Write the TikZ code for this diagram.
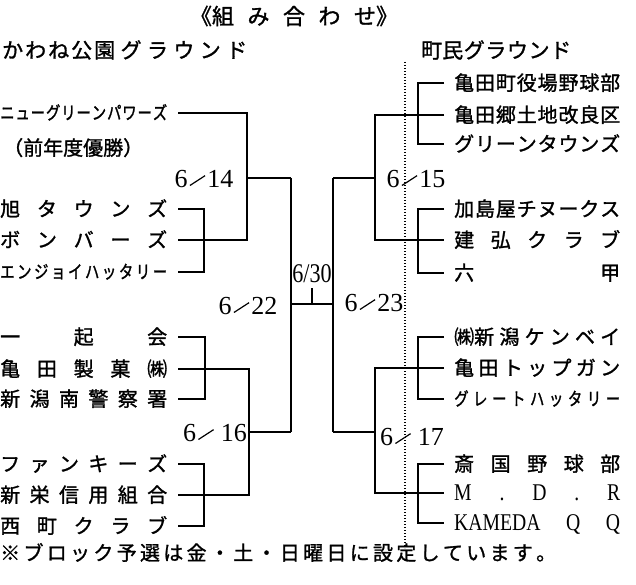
\documentclass[tikz,border=0pt]{standalone}
\usepackage{fontspec}
\usepackage{graphicx}
\setmainfont{Liberation Serif}
\newfontfamily\jp[FakeBold=1.3]{Noto Sans CJK JP}
\newfontfamily\jpc[FakeBold=1.3,FakeStretch=0.8]{Noto Sans CJK JP}
\newfontfamily\cond[FakeStretch=0.82]{Liberation Serif}
\newcommand\dsl{\hspace{2pt}\raisebox{1.5pt}{\rotatebox{33}{\rule{18pt}{1.2pt}}}\hspace{2pt}}
\newcommand\lbox[1]{\makebox[167pt][s]{#1}}
\newcommand\rbox[1]{\makebox[166pt][s]{#1}}
\begin{document}
\begin{tikzpicture}[x=1pt,y=-1pt,
  bl/.style={line width=1.6pt},
  dotline/.style={line width=1.6pt, dash pattern=on 1.2pt off 1.8pt},
  team/.style={inner sep=0pt, text height=17pt, text depth=2.5pt, font=\jp\fontsize{20}{20}\selectfont},
  steam/.style={inner sep=0pt, text height=15pt, text depth=2.2pt, font=\jpc\fontsize{18}{18}\selectfont},
  lat/.style={inner sep=0pt, text height=17pt, text depth=2.5pt, font=\cond\fontsize{24}{24}\selectfont},
  datel/.style={inner sep=0pt, font=\fontsize{26}{26}\selectfont},
  head/.style={inner sep=0pt, font=\jp\fontsize{21}{21}\selectfont}]
\useasboundingbox (0,0) rectangle (636,585);

% title and headings
\node[head, font=\jp\fontsize{22}{22}\selectfont] (title) at (294,16) {\makebox[208pt][s]{《組\hfil み\hfil 合\hfil わ\hfil せ》}};
\node[head, anchor=west] (parkA) at (2,50) {\makebox[245pt][s]{か\hspace{2pt}わ\hspace{2pt}ね\hspace{2pt}公\hspace{2pt}園\hfil グ\hfil ラ\hfil ウ\hfil ン\hfil ド}};
\node[head, anchor=west] (parkB) at (421,50) {\makebox[150pt][s]{町民\hfil グ\hfil ラ\hfil ウ\hfil ン\hfil ド}};

% left teams
\node[steam, anchor=west] (lGreen) at (0,113) {\lbox{ニ\hfil ュ\hfil ー\hfil グ\hfil リ\hfil ー\hfil ン\hfil パ\hfil ワ\hfil ー\hfil ズ}};
\node[team, anchor=west] (lPrev) at (3,148) {（前年度優勝）};
\node[team, anchor=west] (lAsahi) at (0,209) {\lbox{旭\hfil タ\hfil ウ\hfil ン\hfil ズ}};
\node[team, anchor=west] (lBomb) at (0,240) {\lbox{ボ\hfil ン\hfil バ\hfil ー\hfil ズ}};
\node[steam, anchor=west] (lEnjoy) at (0,272) {\lbox{エ\hfil ン\hfil ジ\hfil ョ\hfil イ\hfil ハ\hfil ッ\hfil タ\hfil リ\hfil ー}};
\node[team, anchor=west] (lIkki) at (0,337) {\lbox{一\hfil 起\hfil 会}};
\node[team, anchor=west] (lSeika) at (0,369) {\lbox{亀\hfil 田\hfil 製\hfil 菓\hfil ㈱}};
\node[team, anchor=west] (lMinami) at (0,399) {\lbox{新\hfil 潟\hfil 南\hfil 警\hfil 察\hfil 署}};
\node[team, anchor=west] (lFunky) at (0,464) {\lbox{フ\hfil ァ\hfil ン\hfil キ\hfil ー\hfil ズ}};
\node[team, anchor=west] (lShinei) at (0,495) {\lbox{新\hfil 栄\hfil 信\hfil 用\hfil 組\hfil 合}};
\node[team, anchor=west] (lNishi) at (0,526) {\lbox{西\hfil 町\hfil ク\hfil ラ\hfil ブ}};

% right teams
\node[team, anchor=west] (rYakuba) at (454,83) {\rbox{亀\hfil 田\hfil 町\hfil 役\hfil 場\hfil 野\hfil 球\hfil 部}};
\node[team, anchor=west] (rKyodo) at (454,115) {\rbox{亀\hfil 田\hfil 郷\hfil 土\hfil 地\hfil 改\hfil 良\hfil 区}};
\node[team, anchor=west] (rGreen) at (454,144) {\rbox{グ\hfil リ\hfil ー\hfil ン\hfil タ\hfil ウ\hfil ン\hfil ズ}};
\node[team, anchor=west] (rKashima) at (454,209) {\rbox{加\hfil 島\hfil 屋\hfil チ\hfil ヌ\hfil ー\hfil ク\hfil ス}};
\node[team, anchor=west] (rKenko) at (454,240) {\rbox{建\hfil 弘\hfil ク\hfil ラ\hfil ブ}};
\node[team, anchor=west] (rRokko) at (454,273) {\rbox{六\hfil 甲}};
\node[team, anchor=west] (rKenbei) at (454,337) {\rbox{㈱新\hfil 潟\hfil ケ\hfil ン\hfil ベ\hfil イ}};
\node[team, anchor=west] (rTop) at (454,368) {\rbox{亀\hfil 田\hfil ト\hfil ッ\hfil プ\hfil ガ\hfil ン}};
\node[steam, anchor=west] (rGreat) at (454,399) {\rbox{グ\hfil レ\hfil ー\hfil ト\hfil ハ\hfil ッ\hfil タ\hfil リ\hfil ー}};
\node[team, anchor=west] (rSaikoku) at (454,464) {\rbox{斎\hfil 国\hfil 野\hfil 球\hfil 部}};
\node[lat, anchor=west] (rMDR) at (454,493) {\rbox{M\hfil .\hfil D\hfil .\hfil R}};
\node[lat, anchor=west] (rKameda) at (454,523) {\rbox{KAMEDA\hfil Q\hfil Q}};

% dates
\node[datel] (d14) at (204,179) {6\dsl 14};
\node[datel] (d22) at (248,306) {6\dsl 22};
\node[datel] (d16) at (215,433) {6\dsl\hspace{5pt}16};
\node[inner sep=0pt, font=\cond\fontsize{27}{27}\selectfont] (d30) at (312,274) {6/30};
\node[datel] (d15) at (416,179) {6\dsl 15};
\node[datel] (d23) at (374,303) {6\dsl 23};
\node[datel] (d17) at (412,437) {6\dsl\hspace{5pt}17};

% footer
\node[team, anchor=west] (foot) at (0,553) {\makebox[556pt][s]{※\hfil ブ\hfil ロ\hfil ッ\hfil ク\hfil 予\hfil 選\hfil は\hfil 金\hfil ・\hfil 土\hfil ・\hfil 日\hfil 曜\hfil 日\hfil に\hfil 設\hfil 定\hfil し\hfil て\hfil い\hfil ま\hfil す\hfil 。}};

% junctions
\coordinate (ja) at (247,178);
\coordinate (ba) at (204,209);
\coordinate (bb) at (205,337);
\coordinate (jb) at (249,432);
\coordinate (bc) at (204,464);
\coordinate (c1) at (291,178);
\coordinate (c2) at (291,432);
\coordinate (c3) at (333,178);
\coordinate (c4) at (333,432);
\coordinate (m1) at (291,304);
\coordinate (m2) at (333,304);
\coordinate (tk) at (312,288);
\coordinate (jr1) at (375,178);
\coordinate (jr2) at (375,432);
\coordinate (br1) at (418,83);
\coordinate (br2) at (418,209);
\coordinate (br3) at (418,337);
\coordinate (br4) at (418,464);
\coordinate (dt) at (405,62);
\coordinate (db) at (405,548);

% left connectors
\draw[bl] ([xshift=11pt]lGreen.east) -| (ja) |- ([xshift=11pt]lBomb.east);
\draw[bl] (ja) -- (c1);
\draw[bl] ([xshift=11pt]lAsahi.east) -- (ba) |- ([xshift=11pt]lEnjoy.east);
\draw[bl] ([xshift=11pt]lIkki.east) -- (bb) |- ([xshift=11pt]lMinami.east);
\draw[bl] ([xshift=11pt]lSeika.east) -| (jb) |- ([xshift=11pt]lShinei.east);
\draw[bl] (jb) -- (c2);
\draw[bl] ([xshift=11pt]lFunky.east) -- (bc) |- ([xshift=11pt]lNishi.east);

% centre
\draw[bl] (c1) -- (c2);
\draw[bl] (c3) -- (c4);
\draw[bl] (m1) -- (m2);
\draw[bl] (tk) -- (tk |- m1);

% right connectors
\draw[bl] (c3) -- (jr1);
\draw[bl] ([xshift=-10pt]rKyodo.west) -| (jr1) |- ([xshift=-10pt]rKenko.west);
\draw[bl] ([xshift=-10pt]rYakuba.west) -- (br1) |- ([xshift=-10pt]rGreen.west);
\draw[bl] ([xshift=-10pt]rKashima.west) -- (br2) |- ([xshift=-10pt]rRokko.west);
\draw[bl] (c4) -- (jr2);
\draw[bl] ([xshift=-10pt]rTop.west) -| (jr2) |- ([xshift=-10pt]rMDR.west);
\draw[bl] ([xshift=-10pt]rKenbei.west) -- (br3) |- ([xshift=-10pt]rGreat.west);
\draw[bl] ([xshift=-10pt]rSaikoku.west) -- (br4) |- ([xshift=-10pt]rKameda.west);

% dotted divider
\draw[dotline] (dt) -- (db);
\end{tikzpicture}
\end{document}
